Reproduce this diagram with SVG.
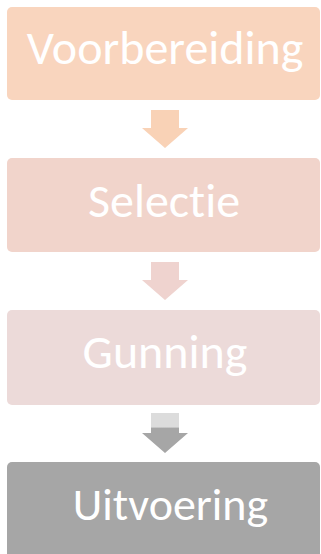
<svg xmlns="http://www.w3.org/2000/svg" width="321" height="554" viewBox="0 0 321 554">
<style>
.lbl{font-family:Carlito,"Open Sans","Noto Sans",sans-serif;fill:#ffffff;text-anchor:middle;font-size:48px;font-variant-ligatures:none;}
</style>
<defs>
<linearGradient id="g3" x1="0" y1="0" x2="0" y2="1">
<stop offset="0" stop-color="#dcdcdc"/>
<stop offset="0.35" stop-color="#dcdcdc"/>
<stop offset="0.38" stop-color="#a6a6a6"/>
<stop offset="1" stop-color="#a6a6a6"/>
</linearGradient>
</defs>
<rect width="321" height="554" fill="#ffffff"/>
<g id="connectors">
<polygon points="151,110 179,110 179,128 188,128 165,148 142,128 151,128" fill="#f9d2b6"/>
<polygon points="151,262 179,262 179,280 188,280 165,300 142,280 151,280" fill="#efd3cf"/>
<polygon points="151,413 179,413 179,433 188,433 165,453 142,433 151,433" fill="url(#g3)"/>
</g>
<g id="n1">
<rect x="7" y="7" width="313" height="93" rx="5" fill="#f9d5be"/>
<text class="lbl" x="165" y="64">Voorbereiding</text>
</g>
<g id="n2">
<rect x="7" y="158" width="313" height="94" rx="5" fill="#f1d4cb"/>
<text class="lbl" x="164" y="217">Selectie</text>
</g>
<g id="n3">
<rect x="7" y="310" width="313" height="95" rx="5" fill="#ecdad9"/>
<text class="lbl" x="165" y="368">Gunning</text>
</g>
<g id="n4">
<rect x="7" y="462" width="313" height="96" rx="5" fill="#a6a6a6"/>
<text class="lbl" x="170.5" y="520" style="font-size:46px">Uitvoering</text>
</g>
</svg>
